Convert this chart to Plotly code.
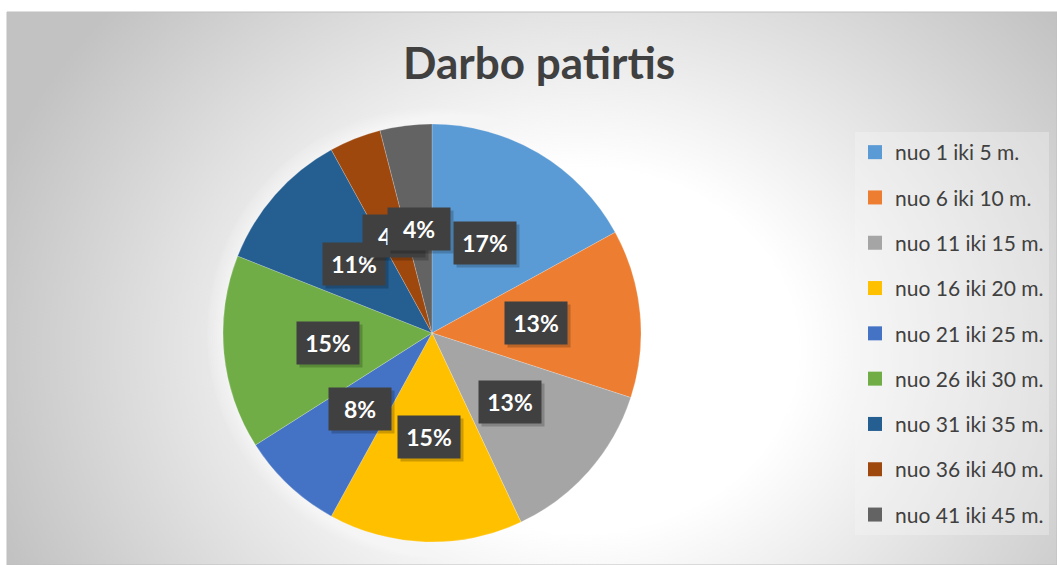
import base64
import math
import plotly.graph_objects as go

W, H = 1057, 565

labels = [
    "nuo 1 iki 5 m.", "nuo 6 iki 10 m.", "nuo 11 iki 15 m.",
    "nuo 16 iki 20 m.", "nuo 21 iki 25 m.", "nuo 26 iki 30 m.",
    "nuo 31 iki 35 m.", "nuo 36 iki 40 m.", "nuo 41 iki 45 m.",
]
values = [17, 13, 13, 15, 8, 15, 11, 4, 4]
colors = [
    "#5B9BD5", "#ED7D31", "#A5A5A5", "#FFC000", "#4472C4",
    "#70AD47", "#255E91", "#9E480E", "#636363",
]
TITLE = "Darbo patirtis"

# pie placement in pixels
PIE_CX, PIE_CY, PIE_R = 432, 333, 209
FONT = "Lato"
TXT = "#404040"

# radial gradient background (chart area starts at x=7, y=12)
svg = (
    '<svg xmlns="http://www.w3.org/2000/svg" width="1050" height="553" '
    'preserveAspectRatio="none" viewBox="0 0 1050 553">'
    '<defs><radialGradient id="g" gradientUnits="userSpaceOnUse" cx="0" cy="0" r="1" '
    'gradientTransform="translate(573,338) scale(620,520)">'
    '<stop offset="0" stop-color="#ffffff"/>'
    '<stop offset="0.35" stop-color="#ffffff"/>'
    '<stop offset="1" stop-color="#c2c2c2"/>'
    '</radialGradient></defs>'
    '<rect width="1050" height="553" fill="url(#g)"/></svg>'
)
bg_src = "data:image/svg+xml;base64," + base64.b64encode(svg.encode()).decode()


def pie_domain(r):
    return dict(
        x=[(PIE_CX - r) / W, (PIE_CX + r) / W],
        y=[(H - PIE_CY - r) / H, (H - PIE_CY + r) / H],
    )


fig = go.Figure()
# soft white glow around the pie
for extra in range(16, 0, -2):
    fig.add_trace(go.Pie(
        values=[1], labels=["glow"], marker=dict(colors=["white"]),
        opacity=0.09, textinfo="none", hoverinfo="skip", showlegend=False,
        sort=False, domain=pie_domain(PIE_R + extra),
    ))

fig.add_trace(go.Pie(
    labels=labels,
    values=values,
    sort=False,
    direction="clockwise",
    rotation=0,
    marker=dict(colors=colors, line=dict(color="rgba(255,255,255,0.4)", width=0.5)),
    textinfo="none",
    hoverinfo="label+percent",
    showlegend=False,
    domain=pie_domain(PIE_R),
))

# legend entries as dummy square markers (one group each for spacing)
for lab, col in zip(labels, colors):
    fig.add_trace(go.Scatter(
        x=[None], y=[None], mode="markers", name=lab, legendgroup=lab,
        marker=dict(symbol="square", size=14, color=col),
    ))

# data labels in dark boxes at half radius
total = sum(values)
annotations = []
cum = 0
for v in values:
    mid = (cum + v / 2) / total * 2 * math.pi
    cum += v
    px = PIE_CX + 0.5 * PIE_R * math.sin(mid)
    py = PIE_CY - 0.5 * PIE_R * math.cos(mid)
    txt = f"{v / total:.0%}"
    common = dict(
        x=px / W, y=1 - py / H, xref="paper", yref="paper",
        xanchor="center", yanchor="middle",
        showarrow=False, width=46, height=26, borderpad=8,
    )
    annotations.append(dict(
        text=f"<b>{txt}</b>", bgcolor="rgba(0,0,0,0.2)", xshift=3, yshift=-3,
        font=dict(family=FONT, size=23, color="rgba(0,0,0,0)"), **common,
    ))
    annotations.append(dict(
        text=f"<b>{txt}</b>", bgcolor="#404040",
        font=dict(family=FONT, size=23, color="white"), **common,
    ))

fig.update_layout(
    width=W, height=H,
    margin=dict(l=0, r=0, t=0, b=0),
    paper_bgcolor="white",
    plot_bgcolor="rgba(0,0,0,0)",
    title=dict(
        text=f"<b>{TITLE}</b>", x=0.51, xanchor="center",
        y=1 - 64 / H, yanchor="middle",
        font=dict(family=FONT, size=44, color=TXT),
    ),
    xaxis=dict(visible=False),
    yaxis=dict(visible=False),
    legend=dict(
        x=855 / W, y=1 - 132 / H, xanchor="left", yanchor="top",
        bgcolor="rgba(245,245,245,0.35)",
        font=dict(family=FONT, size=21, color=TXT),
        tracegroupgap=15,
        itemclick=False,
    ),
    images=[dict(
        source=bg_src, xref="paper", yref="paper",
        x=7 / W, y=1 - 12 / H, sizex=1 - 7 / W, sizey=(H - 12) / H,
        xanchor="left", yanchor="top", sizing="stretch", layer="below",
    )],
    shapes=[dict(
        type="rect", xref="paper", yref="paper",
        x0=7 / W, x1=1, y0=0, y1=1 - 12 / H,
        line=dict(color="#bfbfbf", width=1),
    )],
    annotations=annotations,
)

fig.write_html(
    "out.html",
    config={"displayModeBar": False},
    post_script="document.body.style.margin='0';",
)
